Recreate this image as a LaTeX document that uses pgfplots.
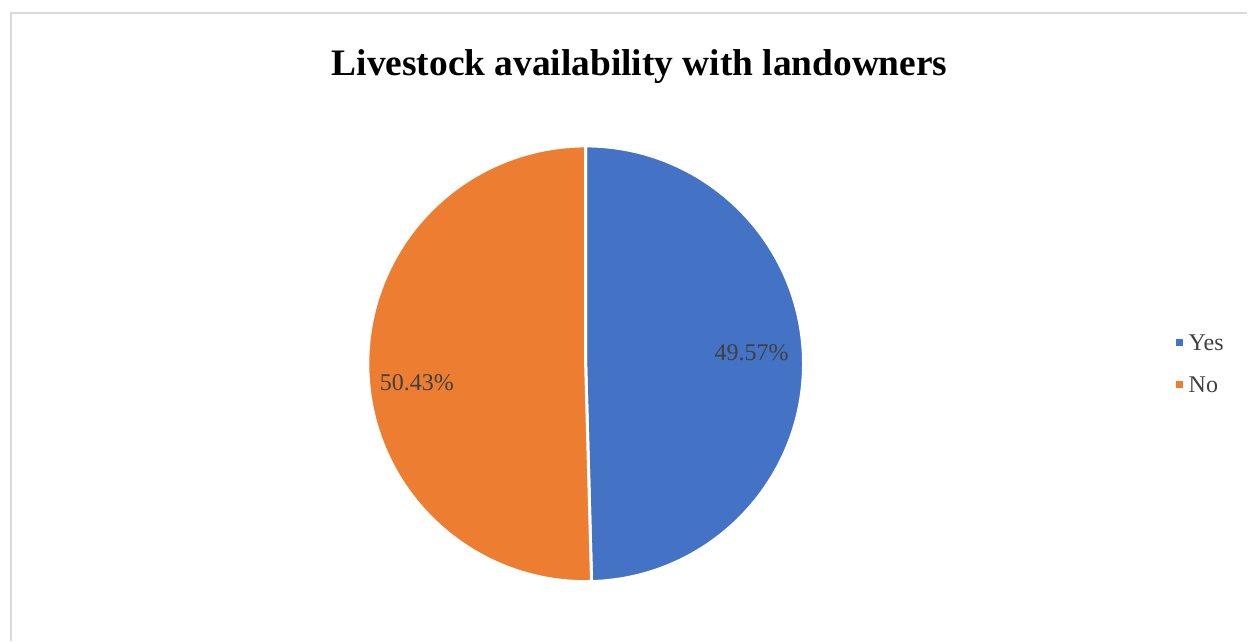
\documentclass[border=0pt]{standalone}
\usepackage{fontspec}
\setmainfont{Liberation Serif}
\usepackage{pgfplots}
\usepackage{pgfplotstable}
\pgfplotsset{compat=1.18}
\definecolor{pieblue}{HTML}{4472C4}
\definecolor{pieorange}{HTML}{ED7D31}
\definecolor{labelgray}{HTML}{404040}
\definecolor{framegray}{HTML}{D9D9D9}
\pgfplotstableread{
label value
Yes 49.57
No 50.43
}\piedata
\begin{document}
\begin{tikzpicture}
\pgfplotstablegetelem{0}{value}\of\piedata \let\valYes\pgfplotsretval
\pgfplotstablegetelem{1}{value}\of\piedata \let\valNo\pgfplotsretval
\pgfmathsetmacro{\angYes}{90-3.6*\valYes}
\begin{axis}[at={(0,0)},anchor=south west,x=0.5pt,y=0.5pt,
  xmin=0,xmax=1248,ymin=0,ymax=641,scale only axis,hide axis,clip=false]
\draw[framegray,line width=0.75pt] (axis cs:1248,628) -- (axis cs:11,628) -- (axis cs:11,0);
\node[font=\bfseries\fontsize{18.7}{22}\selectfont] at (axis cs:640,574) {Livestock availability with landowners};
\filldraw[fill=pieblue,draw=white,line width=1.5pt,line join=round] (axis cs:586,277) -- ++(90:109pt) arc[start angle=90,end angle=\angYes,radius=109pt] -- cycle;
\filldraw[fill=pieorange,draw=white,line width=1.5pt,line join=round] (axis cs:586,277) -- ++(\angYes:109pt) arc[start angle=\angYes,end angle=-270,radius=109pt] -- cycle;
\node[text=labelgray,font=\fontsize{12}{14}\selectfont] at (axis cs:752,288) {\valYes\%};
\node[text=labelgray,font=\fontsize{12}{14}\selectfont] at (axis cs:417,258) {\valNo\%};
\fill[pieblue] (axis cs:1176.5,294.5) rectangle (axis cs:1183.5,301.5);
\node[anchor=west,inner sep=0pt,text=labelgray,font=\fontsize{12}{14}\selectfont] at (axis cs:1189,298) {Yes};
\fill[pieorange] (axis cs:1176.5,252.5) rectangle (axis cs:1183.5,259.5);
\node[anchor=west,inner sep=0pt,text=labelgray,font=\fontsize{12}{14}\selectfont] at (axis cs:1189,256) {No};
\end{axis}
\path[use as bounding box] (0,0) rectangle (624pt,320.5pt);
\end{tikzpicture}
\end{document}
